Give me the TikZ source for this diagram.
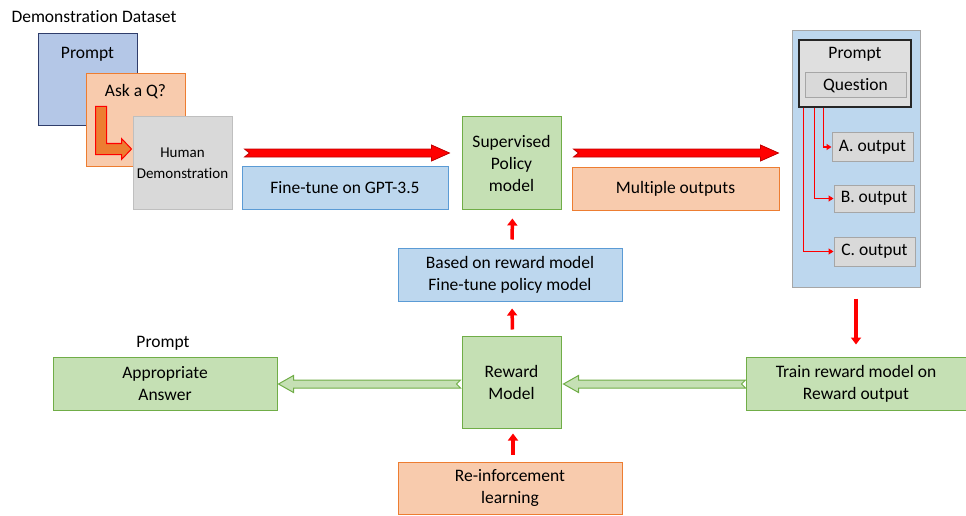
\documentclass[tikz,border=0pt]{standalone}
\usepackage{fontspec}
\setmainfont{Carlito}[Ligatures=NoCommon]
\usetikzlibrary{calc,arrows.meta}

\definecolor{blueFill}{HTML}{B4C7E7}
\definecolor{blueEdge}{HTML}{2F3D6B}
\definecolor{skyFill}{HTML}{BDD7EE}
\definecolor{skyEdge}{HTML}{5B9BD5}
\definecolor{orFill}{HTML}{F8CBAD}
\definecolor{orEdge}{HTML}{ED7D31}
\definecolor{grFill}{HTML}{D9D9D9}
\definecolor{grEdge}{HTML}{BFBFBF}
\definecolor{gnFill}{HTML}{C5E0B4}
\definecolor{gnEdge}{HTML}{70AD47}
\definecolor{rdEdge}{HTML}{C00000}
\definecolor{panelEdge}{HTML}{A6A6A6}

% block arrow: #1 style, #2 tail, #3 tip, #4 half shaft, #5 half head, #6 head length, #7 notch depth
\newcommand\blockarrow[7]{%
  \coordinate (#2-neck) at ($(#3)!#6!(#2)$);
  \path[#1] ($(#2)!#4!90:(#3)$) -- ($(#2-neck)!#4!90:(#3)$) -- ($(#2-neck)!#5!90:(#3)$)
    -- (#3) -- ($(#2-neck)!#5!-90:(#3)$) -- ($(#2-neck)!#4!-90:(#3)$)
    -- ($(#2)!#4!-90:(#3)$) -- ($(#2)!#7!(#3)$) -- cycle;}

\begin{document}
\begin{tikzpicture}[x=1pt,y=-1pt,
  font=\fontsize{17.5}{22}\selectfont,
  sz/.style 2 args={minimum width=#1pt, minimum height=#2pt},
  box/.style={draw, line width=1pt, inner sep=0pt, align=center},
  bluebox/.style={box, draw=blueEdge, fill=blueFill},
  skybox/.style={box, draw=skyEdge, fill=skyFill},
  orbox/.style={box, draw=orEdge, fill=orFill},
  graybox/.style={box, draw=grEdge, fill=grFill},
  greenbox/.style={box, draw=gnEdge, fill=gnFill},
  outbox/.style={box, draw=panelEdge, fill=grFill},
  redbig/.style={fill=red, draw=rdEdge, line width=0.8pt, line join=miter},
  greenbig/.style={fill=gnFill, draw=gnEdge, line width=1pt, line join=miter},
  upred/.style={draw=red, line width=3.5pt, -{Triangle[width=10pt,length=7pt]}},
  thinred/.style={draw=red, line width=1.2pt, -{Triangle[width=6pt,length=5pt]}},
]
\useasboundingbox (0,0) rectangle (966,516);

% ---- demonstration dataset stack ----
\node[anchor=west] (dd) at (8,17) {Demonstration Dataset};
\node[bluebox, sz={99}{92}, label={[anchor=center, yshift=-21pt]north:Prompt}] (p1) at (87.5,80) {};
\node[orbox, sz={99}{92}, label={[anchor=center, yshift=-18pt]north:Ask a Q?}] (ask) at (135.5,120) {};
\node[graybox, sz={99}{92}, font=\fontsize{15}{21}\selectfont] (human) at (182.5,163) {Human\\Demonstration};
\begin{scope}[shift={(ask.north west)}]
  \path[fill=orEdge, draw=red, line width=1pt, line join=miter]
    (10,33) -- (21,33) -- (21,70) -- (36,70) -- (36,65) -- (46,75.5)
    -- (36,86) -- (36,81) -- (10,81) -- cycle;
\end{scope}

% ---- top row ----
\node[skybox, sz={206}{43}] (ft) at (345,187.5) {Fine-tune on GPT-3.5};
\node[greenbox, sz={99}{92}] (sup) at (511.5,163) {Supervised\\Policy\\model};
\node[orbox, sz={207}{43}] (multi) at (675.5,188.5) {Multiple outputs};

\coordinate (r1s) at ($(ft.north west)+(3,-12.5)$);
\coordinate (r1e) at ($(ft.north east)+(1,-12.5)$);
\blockarrow{redbig}{r1s}{r1e}{4pt}{8pt}{18pt}{5pt}
\coordinate (r2s) at ($(multi.north west)+(2,-13.5)$);
\coordinate (r2e) at ($(multi.north east)+(-1,-13.5)$);
\blockarrow{redbig}{r2s}{r2e}{4pt}{8pt}{18pt}{5pt}

% ---- outputs panel ----
\node[box, draw=panelEdge, fill=skyFill, sz={128}{256}] (panel) at (856,159) {};
\node[box, draw=black!85, line width=1.4pt, fill=grFill!85!white, sz={112}{67},
      label={[anchor=center, yshift=-15pt]north:Prompt}] (pbox) at (855,73.5) {};
\node[outbox, sz={101}{25}] (q) at (855.5,85.5) {Question};
\node[outbox, sz={81}{28}] (oa) at (872.5,147) {A. output};
\node[outbox, sz={80}{27}] (ob) at (874,198.5) {B. output};
\node[outbox, sz={81}{29}] (oc) at (874.5,251.5) {C. output};
\draw[thinred] ($(pbox.south west)+(25,0)$) |- (oa.west);
\draw[thinred] ($(pbox.south west)+(16,0)$) |- (ob.west);
\draw[thinred] ($(pbox.south west)+(5,0)$) |- (oc.west);

% ---- middle and bottom ----
\node[skybox, sz={224}{53}] (based) at (510,274.5) {Based on reward model\\Fine-tune policy model};
\node[greenbox, sz={99}{92}] (reward) at (511.5,382) {Reward\\Model};
\node[greenbox, sz={220}{53}] (train) at (856,383.5) {Train reward model on\\Reward output};
\node[greenbox, sz={224}{53}] (answer) at (165,383.5) {Appropriate\\Answer};
\node (plab) at (163,343) {Prompt};
\node[orbox, sz={224}{52}] (rl) at (510,488) {Re-inforcement\\learning};

\draw[upred, shorten <=8pt, shorten >=9pt] ([xshift=2pt]based.north) -- ([xshift=1pt]sup.south);
\draw[upred, shorten <=6pt, shorten >=7pt] ([xshift=1pt]reward.north) -- ([xshift=2pt]based.south);
\draw[upred, shorten <=7pt, shorten >=5pt] ([xshift=3pt]rl.north) -- ([xshift=1.5pt]reward.south);
\draw[upred, shorten <=11pt, shorten >=12pt] (panel.south) -- (train.north);

\coordinate (g1s) at ($(train.west)+(0,0.5)$);
\coordinate (g1e) at ($(reward.east)+(2,2)$);
\blockarrow{greenbig}{g1s}{g1e}{4pt}{8.5pt}{15pt}{4pt}
\coordinate (g2s) at ($(reward.west)+(-1,2)$);
\coordinate (g2e) at ($(answer.east)+(1,0.5)$);
\blockarrow{greenbig}{g2s}{g2e}{4pt}{8.5pt}{15pt}{4pt}
\end{tikzpicture}
\end{document}
